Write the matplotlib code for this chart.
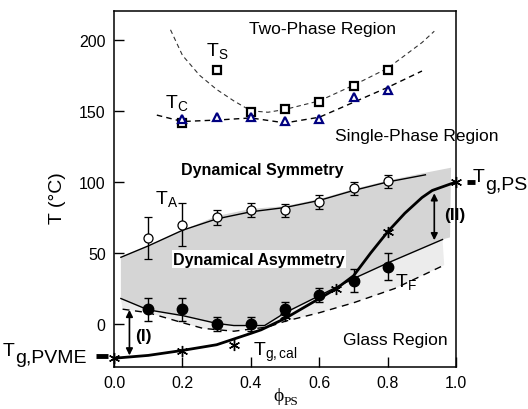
import matplotlib
matplotlib.use('Agg')
import matplotlib.pyplot as plt

plt.rcParams['font.family'] = ['Liberation Sans', 'DejaVu Sans']
plt.rcParams['mathtext.fontset'] = 'custom'
plt.rcParams['mathtext.rm'] = 'Liberation Sans'
plt.rcParams['mathtext.it'] = 'Liberation Sans'
plt.rcParams['mathtext.bf'] = 'Liberation Sans:bold'

# --- data ---
phi = [0.2, 0.3, 0.4, 0.5, 0.6, 0.7, 0.8]
ts = [141.5, 178.5, 149, 151.5, 156.5, 167.5, 179]
tc = [144, 146, 145.5, 142.7, 144.3, 160, 164.5]

phi_a = [0.1, 0.2, 0.3, 0.4, 0.5, 0.6, 0.7, 0.8]
ta = [60.5, 70, 75, 80, 80, 86, 95.5, 100.5]
ta_err = [15, 15, 5.5, 5, 4.5, 4.7, 4.5, 4.5]
tf = [10.5, 10.3, 0, 0, 10.3, 20.4, 30.5, 40.3]
tf_err = [8, 8, 5, 5, 5, 5, 8, 9.5]

tg_x = [0.0, 0.2, 0.5, 0.65, 0.8, 1.0]
tg_y = [-24, -19, 5.5, 25, 65, 100]
tgcal_x = [0.35]
tgcal_y = [-15]

# fitted / guide curves
ts_fit_x = [0.165, 0.2, 0.25, 0.3, 0.35, 0.4, 0.45, 0.5, 0.6, 0.7, 0.8, 0.9, 0.936]
ts_fit_y = [207, 189, 175, 165, 157, 150, 149, 151, 157, 168, 180, 198, 206]
tc_fit_x = [0.125, 0.2, 0.3, 0.4, 0.5, 0.6, 0.7, 0.8, 0.9]
tc_fit_y = [147, 142.5, 143.5, 145, 141.5, 145.5, 156, 166.5, 178]

ta_fit_x = [0.02, 0.1, 0.2, 0.3, 0.4, 0.5, 0.6, 0.7, 0.8, 0.91]
ta_fit_y = [47, 55, 66, 74, 79, 82, 87, 94, 100, 105]
tf_fit_x = [0.02, 0.1, 0.2, 0.3, 0.35, 0.44, 0.5, 0.6, 0.7, 0.8, 0.96]
tf_fit_y = [18, 10, 6, 0.5, -1, -1, 8, 20, 32, 43, 59.5]
low_x = [0.025, 0.1, 0.2, 0.26, 0.35, 0.45, 0.5, 0.6, 0.7, 0.82, 0.965]
low_y = [10.5, 8, 1, -3, -5, -2, 2, 8, 15, 25, 41.5]

shade_top_x = [0.02, 0.1, 0.2, 0.3, 0.4, 0.5, 0.6, 0.7, 0.8, 0.9, 0.985, 0.982]
shade_top_y = [47, 55, 66, 76, 81, 83, 88, 95, 101, 106, 110, 61]

tg_fit_x = [0.0, 0.1, 0.2, 0.3, 0.4, 0.43, 0.5, 0.6, 0.65, 0.7, 0.75, 0.8, 0.85, 0.9, 0.93, 1.0]
tg_fit_y = [-24, -22, -18.5, -14.5, -6.5, -4, 4, 18, 25, 34, 50, 65, 78, 89, 94, 100]

fig = plt.figure(figsize=(5.28, 4.10), dpi=100)
ax = fig.add_axes([0.216, 0.103, 0.648, 0.867])

# shaded regions
ax.fill(shade_top_x + tf_fit_x[::-1], shade_top_y + tf_fit_y[::-1],
        color='#d5d5d5', lw=0, zorder=1)
ax.fill(tf_fit_x + low_x[::-1], tf_fit_y + low_y[::-1],
        color='#ececec', lw=0, zorder=1)

# guide lines
ax.plot(ts_fit_x, ts_fit_y, color='#333333', lw=0.8, dashes=(4, 3), zorder=2)
ax.plot(tc_fit_x, tc_fit_y, color='black', lw=1.0, dashes=(4, 3), zorder=2)
ax.plot(ta_fit_x, ta_fit_y, color='black', lw=1.0, zorder=3)
ax.plot(tf_fit_x, tf_fit_y, color='black', lw=1.0, zorder=3)
ax.plot(low_x, low_y, color='black', lw=1.0, dashes=(5, 4), zorder=3)
ax.plot(tg_fit_x, tg_fit_y, color='black', lw=2.0, zorder=4)

# data points
ax.plot(phi, ts, 's', ms=5.5, mfc='white', mec='black', mew=1.6, zorder=5)
ax.plot(phi, tc, '^', ms=5.5, mfc='white', mec='#000080', mew=1.6, zorder=5)
ax.errorbar(phi_a, ta, yerr=ta_err, fmt='o', ms=6.5, mfc='white', mec='black',
            mew=0.9, ecolor='black', elinewidth=1, capsize=3, zorder=5)
ax.errorbar(phi_a, tf, yerr=tf_err, fmt='o', ms=7.5, mfc='black', mec='black',
            ecolor='black', elinewidth=1, capsize=3, zorder=5)
ax.plot(tg_x, tg_y, ls='none', marker=(6, 2, 0), ms=8, mec='black', mew=1,
        zorder=6, clip_on=False)
ax.plot(tgcal_x, tgcal_y, ls='none', marker=(6, 2, 0), ms=8, mec='black',
        mew=1, zorder=6)

# arrows
ax.annotate('', xy=(0.045, -22), xytext=(0.045, 10),
            arrowprops=dict(arrowstyle='<|-|>', color='black', lw=1.2,
                            mutation_scale=10, shrinkA=0, shrinkB=0))
ax.annotate('', xy=(0.936, 59), xytext=(0.936, 92),
            arrowprops=dict(arrowstyle='<|-|>', color='black', lw=1.2,
                            mutation_scale=10, shrinkA=0, shrinkB=0))

# text
ax.text(0.608, 208, 'Two-Phase Region', fontsize=12.5, ha='center', va='center')
ax.text(0.884, 133, 'Single-Phase Region', fontsize=12.5, ha='center', va='center',
        clip_on=False)
ax.text(0.434, 109, 'Dynamical Symmetry', fontsize=11.5, fontweight='bold',
        ha='center', va='center')
ax.text(0.424, 45.7, 'Dynamical Asymmetry', fontsize=11.5, fontweight='bold',
        ha='center', va='center',
        bbox=dict(facecolor='white', edgecolor='none', pad=1))
ax.text(0.822, -11, 'Glass Region', fontsize=12.5, ha='center', va='center')
ax.text(0.085, -8, '(I)', fontsize=12.5, fontweight='bold', ha='center', va='center')
ax.text(0.995, 77, '(II)', fontsize=12.5, fontweight='bold', ha='center', va='center',
        clip_on=False)

ax.text(0.27, 193, r'$\mathrm{T_S}$', fontsize=14, ha='left', va='center')
ax.text(0.15, 156, r'$\mathrm{T_C}$', fontsize=14, ha='left', va='center')
ax.text(0.12, 89, r'$\mathrm{T_A}$', fontsize=14, ha='left', va='center')
ax.text(0.82, 30, r'$\mathrm{T_F}$', fontsize=14, ha='left', va='center')
ax.text(0.405, -19, r'$\mathrm{T_{g,cal}}$', fontsize=14, ha='left', va='center')

# T_g,PVME and T_g,PS labels outside the axes
ax.plot([-0.052, -0.018], [-22.6, -22.6], color='black', lw=3.5,
        solid_capstyle='butt', clip_on=False)
ax.text(-0.29, -18.5, 'T', fontsize=14, ha='right', va='center')
ax.text(-0.29, -23.5, 'g,PVME', fontsize=14, ha='left', va='center')
ax.plot([1.031, 1.055], [100, 100], color='black', lw=3.5,
        solid_capstyle='butt', clip_on=False)
ax.text(1.084, 103.5, 'T', fontsize=14, ha='right', va='center')
ax.text(1.084, 98.5, 'g,PS', fontsize=14, ha='left', va='center')

ax.set_xlim(0, 1)
ax.set_ylim(-30, 220)
ax.set_xticks([0.0, 0.2, 0.4, 0.6, 0.8, 1.0])
ax.set_xticklabels(['0.0', '0.2', '0.4', '0.6', '0.8', '1.0'])
ax.set_yticks([0, 50, 100, 150, 200])
ax.tick_params(direction='in', length=7, width=1, labelsize=11.5, pad=6)
for s in ax.spines.values():
    s.set_linewidth(1.1)

ax.set_ylabel('T (°C)', fontsize=14)
ax.yaxis.set_label_coords(-0.14, 0.477)
fig.text(0.527, 0.033, 'ϕ', fontsize=14, ha='center', va='center',
         family=['Liberation Serif', 'DejaVu Serif'])
fig.text(0.537, 0.02, 'PS', fontsize=9.5, ha='left', va='center',
         family=['Liberation Serif', 'DejaVu Serif'])

fig.savefig('out.png', dpi=100)
